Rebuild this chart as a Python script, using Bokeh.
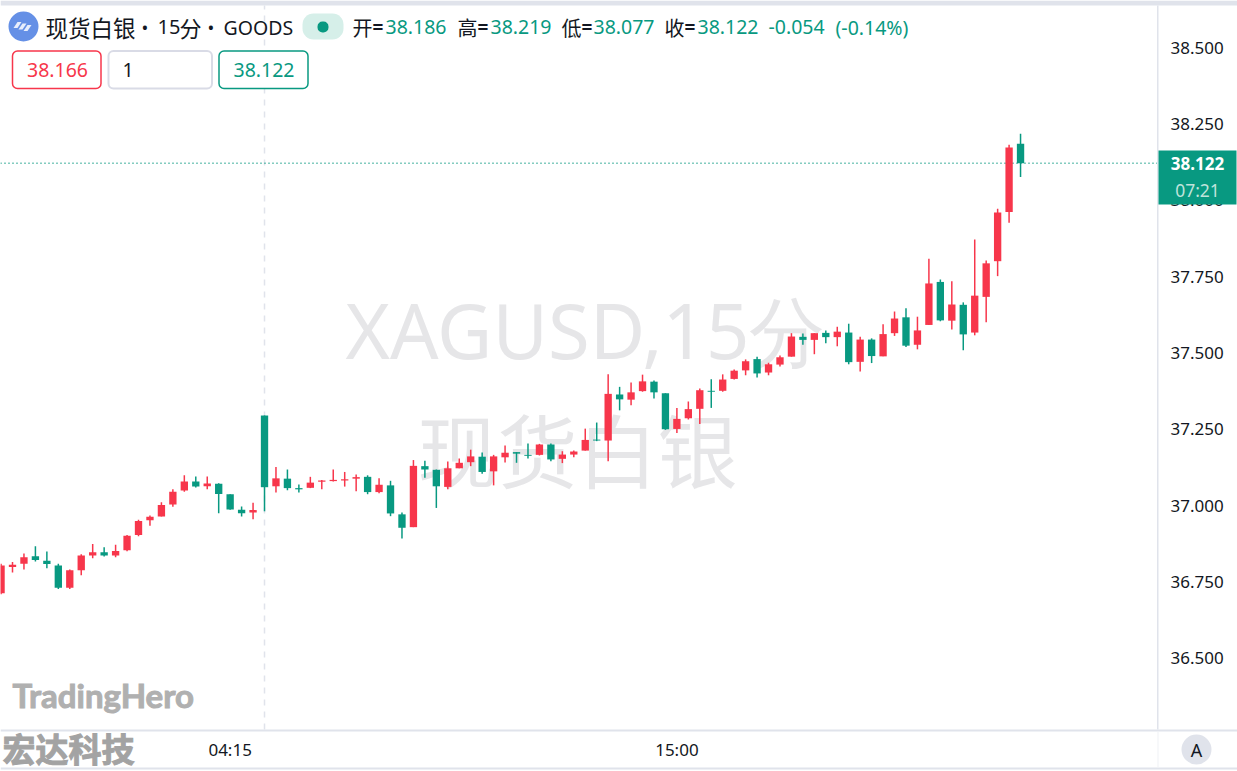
from bokeh.plotting import figure
from bokeh.models import (ColumnDataSource, Range1d, FixedTicker, BoxAnnotation, Label,
                          PolyAnnotation)
from bokeh.embed import file_html
from bokeh.resources import INLINE

opens = [36.712,36.798,36.809,36.834,36.819,36.803,36.730,36.788,36.836,36.847,
         36.836,36.853,36.903,36.952,36.964,37.003,37.049,37.079,37.063,37.071,
         37.037,36.986,36.977,37.295,37.063,37.088,37.057,37.058,37.078,37.080,
         37.082,37.088,37.094,37.044,37.066,36.971,36.929,37.129,37.117,37.061,
         37.122,37.142,37.160,37.112,37.158,37.175,37.166,37.166,37.200,37.153,
         37.167,37.180,37.216,37.213,37.364,37.347,37.375,37.406,37.368,37.251,
         37.286,37.317,37.376,37.376,37.415,37.443,37.480,37.436,37.462,37.488,
         37.553,37.543,37.566,37.552,37.567,37.471,37.544,37.489,37.565,37.617,
         37.527,37.592,37.733,37.606,37.658,37.567,37.684,37.801,37.962,38.186]
highs = [36.809,36.815,36.843,36.866,36.849,36.809,36.790,36.840,36.874,36.863,
         36.871,36.903,36.953,36.967,37.011,37.053,37.099,37.095,37.095,37.073,
         37.037,36.997,37.009,37.295,37.126,37.118,37.069,37.094,37.084,37.118,
         37.110,37.102,37.099,37.089,37.081,36.977,37.149,37.147,37.118,37.144,
         37.154,37.183,37.174,37.166,37.197,37.175,37.203,37.202,37.203,37.178,
         37.180,37.252,37.272,37.430,37.389,37.403,37.429,37.410,37.368,37.320,
         37.341,37.384,37.414,37.430,37.446,37.479,37.488,37.468,37.492,37.565,
         37.564,37.565,37.574,37.586,37.596,37.553,37.548,37.594,37.636,37.647,
         37.619,37.809,37.741,37.735,37.666,37.872,37.803,37.973,38.183,38.219]
lows = [36.709,36.780,36.790,36.816,36.794,36.726,36.726,36.771,36.827,36.833,
        36.830,36.850,36.899,36.934,36.964,36.996,37.045,37.059,37.053,36.975,
        36.986,36.964,36.955,36.981,37.043,37.050,37.043,37.057,37.053,37.079,
        37.062,37.047,37.037,37.040,36.965,36.892,36.929,37.091,36.992,37.053,
        37.122,37.129,37.104,37.066,37.141,37.140,37.154,37.164,37.145,37.139,
        37.158,37.180,37.211,37.145,37.312,37.329,37.373,37.351,37.248,37.238,
        37.282,37.267,37.320,37.373,37.413,37.427,37.420,37.427,37.456,37.488,
        37.527,37.496,37.532,37.522,37.463,37.439,37.467,37.489,37.556,37.520,
        37.512,37.592,37.604,37.577,37.509,37.558,37.601,37.752,37.927,38.077]
closes = [36.803,36.806,36.830,36.821,36.808,36.730,36.788,36.836,36.847,36.836,
          36.851,36.901,36.949,36.963,37.002,37.045,37.079,37.062,37.072,37.038,
          36.987,36.975,36.985,37.060,37.089,37.057,37.053,37.075,37.082,37.084,
          37.086,37.093,37.044,37.068,36.974,36.927,37.130,37.118,37.063,37.122,
          37.140,37.161,37.110,37.161,37.173,37.170,37.163,37.200,37.151,37.167,
          37.177,37.215,37.213,37.366,37.348,37.371,37.407,37.371,37.250,37.284,
          37.316,37.378,37.373,37.413,37.442,37.473,37.433,37.463,37.486,37.554,
          37.543,37.565,37.552,37.570,37.470,37.544,37.490,37.562,37.613,37.524,
          37.574,37.728,37.607,37.659,37.561,37.688,37.794,37.961,38.174,38.122]
price_ticks = [36.5, 36.75, 37.0, 37.25, 37.5, 37.75, 38.0, 38.25, 38.5]
time_ticks = [20, 59]
time_labels = ["04:15", "15:00"]
crosshair_index = 23
last_price = 38.122

UP, DOWN = "#f7364b", "#089981"
LINE = "#e0e3eb"
SANS, CJK = "Noto Sans", "Noto Sans CJK SC"

# the plot area takes the whole canvas; the axes are pinned inside it
X_START, X_END, AXIS_X = -0.048, 107.94, 100.96
Y_START, Y_END, AXIS_Y, TOP_Y = 36.1279, 38.6557, 36.2656, 38.639

idx = list(range(len(opens)))
src = ColumnDataSource(dict(
    x=idx, o=opens, h=highs, l=lows, c=closes,
    color=[UP if c >= o else DOWN for o, c in zip(opens, closes)],
))

p = figure(width=1237, height=771, output_backend="svg", toolbar_location=None,
           x_range=Range1d(X_START, X_END), y_range=Range1d(Y_START, Y_END),
           y_axis_location="right", min_border_left=0, min_border_right=0,
           min_border_top=0, min_border_bottom=0, margin=0,
           background_fill_color="white", border_fill_color="white")
p.outline_line_color = None
p.grid.visible = False
for ax in (p.xaxis[0], p.yaxis[0]):
    ax.axis_line_color = None
    ax.major_tick_line_color = None
    ax.minor_tick_line_color = None
    ax.major_tick_out = 0
    ax.major_tick_in = 0
    ax.minor_tick_out = 0
    ax.major_label_text_color = "#131722"
    ax.major_label_text_font = SANS
    ax.major_label_text_font_size = "17px"
p.yaxis[0].ticker = FixedTicker(ticks=price_ticks)
p.yaxis[0].major_label_overrides = {t: f"{t:.3f}" for t in price_ticks}
p.yaxis[0].major_label_standoff = 13
p.yaxis[0].fixed_location = AXIS_X
p.xaxis[0].ticker = FixedTicker(ticks=time_ticks)
p.xaxis[0].major_label_overrides = dict(zip(time_ticks, time_labels))
p.xaxis[0].major_label_standoff = 8
p.xaxis[0].fixed_location = AXIS_Y


def box(l, t, r, b, fill, line=None, radius=0, level="annotation", lw=1.5):
    a = BoxAnnotation(left=l, right=r, top=t, bottom=b, left_units="canvas", right_units="canvas",
                      top_units="canvas", bottom_units="canvas", fill_color=fill, fill_alpha=1,
                      line_color=line, line_width=lw, line_alpha=1 if line else 0,
                      border_radius=radius, level=level, editable=False)
    p.add_layout(a)


def txt(x, y, s, size, color="#131722", font=SANS, align="left", style="normal",
        level="annotation", outline=None):
    p.add_layout(Label(x=x, y=y, x_units="canvas", y_units="canvas", text=s,
                       text_font=font, text_font_size=f"{size}px", text_color=color,
                       text_align=align, text_baseline="middle", text_font_style=style,
                       text_outline_color=outline, level=level))


# watermarks
txt(585, 329, "XAGUSD,15分", 76, "#e6e6e8", SANS, "center", level="underlay")
txt(577, 446, "现货白银", 80, "#e6e6e8", CJK, "center", level="underlay")

# crosshair and last-price line
p.segment([crosshair_index], [AXIS_Y], [crosshair_index], [TOP_Y], line_color=LINE,
          line_width=1.5, line_dash="6 6", level="underlay")
p.segment([X_START], [last_price], [AXIS_X], [last_price], line_color=DOWN,
          line_width=1.5, line_dash="1 3", level="underlay")

# candles
p.segment("x", "h", "x", "l", source=src, line_color="color", line_width=1.5)
p.vbar("x", 0.64, "o", "c", source=src, fill_color="color", line_color=None)

# frame chrome
box(0, 0, 1237, 5, LINE)
box(0, 729, 1237, 731, LINE)
box(0, 767, 1237, 769, LINE)
box(1156.5, 5, 1158, 729, LINE)
box(1157, 731, 1158, 767, "#f0f1f5")

# header
box(8, 11, 38, 41, "#6590e6", radius=15)
for cx, cy in ((18, 25), (23, 26.5), (28, 28)):
    p.add_layout(PolyAnnotation(
        xs=[cx - 5, cx - 1, cx + 3, cx - 1], ys=[cy + 2.5, cy - 3.5, cy - 3.5, cy + 2.5],
        xs_units="canvas", ys_units="canvas", fill_color="white", fill_alpha=0.85,
        line_color=None, level="annotation"))
txt(45, 26.5, "现货白银", 22.5, font=CJK)
txt(141, 26.5, "•", 18)
txt(157, 26.5, "15", 20)
txt(179, 26.5, "分", 22, font=CJK)
txt(207, 26.5, "•", 18)
txt(223, 26.5, "GOODS", 19.5)

box(302, 13, 343, 39, "#d6efe9", radius=11)
box(317, 21, 328, 32, DOWN, radius=5)

for x, s in [(352, "开"), (457, "高"), (561, "低"), (664, "收")]:
    txt(x, 26.5, s, 20, font=CJK)
    txt(x + 20, 26.5, "=", 19, style="bold")
for x, s in [(385, "38.186"), (490, "38.219"), (593, "38.077"), (697, "38.122"),
             (768, "-0.054"), (835, "(-0.14%)")]:
    txt(x, 26.5, s, 19.5, DOWN)

box(12, 50.5, 100.5, 88, "white", UP, 5)
box(108, 50.5, 211.5, 88, "white", "#d9dbe6", 5, lw=2)
box(218.5, 50.5, 307.5, 88, "white", DOWN, 5)
txt(57, 69, "38.166", 19.5, UP, align="center")
txt(122, 69, "1", 19.5)
txt(263.5, 69, "38.122", 19.5, DOWN, align="center")

# price tag
box(1158, 150, 1236, 204, DOWN)
txt(1197, 163, "38.122", 17, "white", align="center", style="bold")
txt(1197, 189, "07:21", 17.5, "#bfe3db", align="center")

# bottom
box(1181, 734, 1211, 764, LINE, radius=15)
txt(1196, 749, "A", 18, align="center")
txt(12, 694, "TradingHero", 33, "#b0b0b0", "Lato", style="bold", outline="#b0b0b0")
txt(2, 747, "宏达科技", 33, "#a3a3a3", CJK, style="bold", outline="#a3a3a3")

open("out.html", "w").write(file_html(p, INLINE))
